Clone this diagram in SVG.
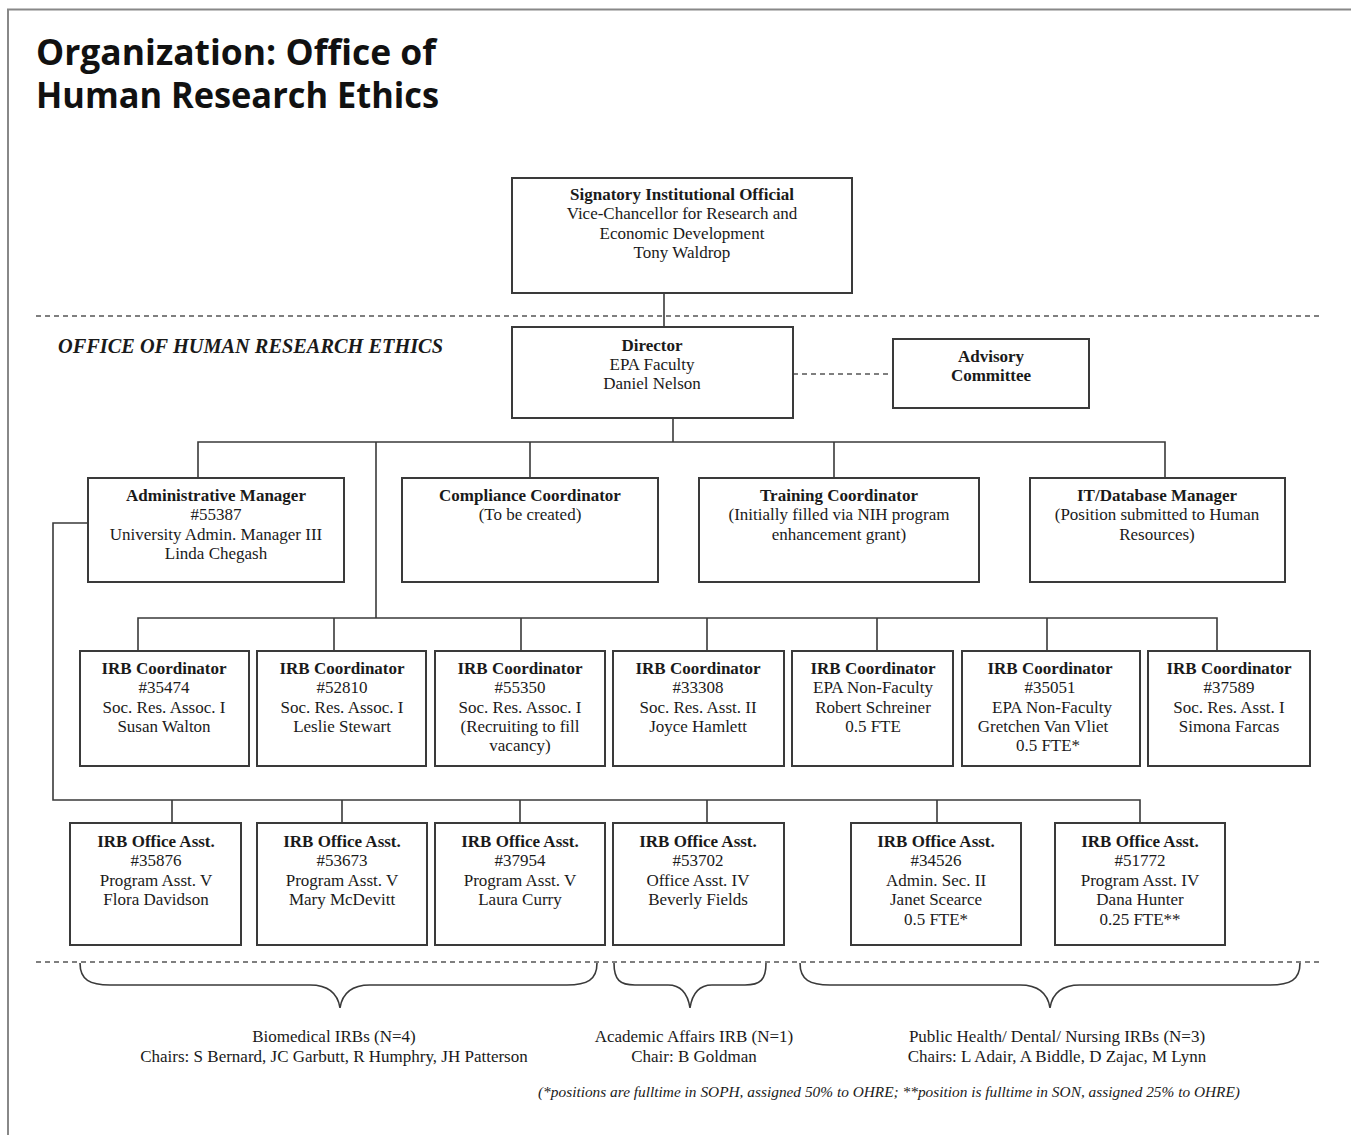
<svg xmlns="http://www.w3.org/2000/svg" width="1351" height="1135" viewBox="0 0 1351 1135">
<style>
.box{fill:#fff;stroke:#3a3a3a;stroke-width:2}
.ln{fill:none;stroke:#3a3a3a;stroke-width:1.6}
.dash{fill:none;stroke:#555;stroke-width:1.6;stroke-dasharray:5 4}
.br{fill:none;stroke:#3a3a3a;stroke-width:1.6}
text{font-family:"Liberation Serif","Times New Roman",serif;font-size:17px;fill:#1a1a1a;text-anchor:middle}
.b{font-weight:bold}
.title{font-family:"Open Sans","DejaVu Sans",sans-serif;font-weight:bold;font-size:35px;text-anchor:start;fill:#111}
.sec{font-weight:bold;font-style:italic;font-size:20px;text-anchor:start}
.fn{font-style:italic;font-size:15px;text-anchor:start}
</style>
<rect x="0" y="0" width="1351" height="1135" fill="#fff"/>
<path d="M8,1135 V9.5 H1351" fill="none" stroke="#888" stroke-width="2"/>
<text class="title" x="36" y="65" textLength="400" lengthAdjust="spacingAndGlyphs">Organization: Office of</text>
<text class="title" x="36" y="108" textLength="403" lengthAdjust="spacingAndGlyphs">Human Research Ethics</text>
<text class="sec" x="58" y="353" textLength="385" lengthAdjust="spacingAndGlyphs">OFFICE OF HUMAN RESEARCH ETHICS</text>

<g id="connectors">
<path class="dash" d="M36,316 H1322"/>
<path class="dash" d="M36,962 H1322"/>
<path class="dash" d="M793,374 H893"/>
<path class="ln" d="M664,293 V327"/>
<path class="ln" d="M673,418 V442"/>
<path class="ln" d="M198,478 V442 H1165 V478 M530,442 V478 M834,442 V478"/>
<path class="ln" d="M376,442 V618"/>
<path class="ln" d="M138,651 V618 H1217 V651 M334,618 V651 M521,618 V651 M707,618 V651 M877,618 V651 M1047,618 V651"/>
<path class="ln" d="M88,523 H53 V800 H1140 V823 M172,800 V823 M342,800 V823 M520,800 V823 M707,800 V823 M937,800 V823"/>
<path class="br" d="M80,963 C80,980 90,985 110,985 L310,985 C330,985 338,995 340,1008 C342,995 350,985 370,985 L567,985 C587,985 597,980 597,963"/>
<path class="br" d="M614,963 C614,980 620,985 635,985 L668,985 C682,985 688,995 690,1008 C692,995 698,985 712,985 L745,985 C760,985 766,980 766,963"/>
<path class="br" d="M800,963 C800,980 810,985 830,985 L1020,985 C1040,985 1048,995 1050,1008 C1052,995 1060,985 1080,985 L1270,985 C1290,985 1300,980 1300,963"/>
</g>

<g id="signatory">
<rect class="box" x="512" y="178" width="340" height="115"/>
<text class="b" x="682" y="200">Signatory Institutional Official</text>
<text x="682" y="219">Vice-Chancellor for Research and</text>
<text x="682" y="239">Economic Development</text>
<text x="682" y="258">Tony Waldrop</text>
</g>
<g id="director">
<rect class="box" x="512" y="327" width="281" height="91"/>
<text class="b" x="652" y="351">Director</text>
<text x="652" y="370">EPA Faculty</text>
<text x="652" y="389">Daniel Nelson</text>
</g>
<g id="advisory">
<rect class="box" x="893" y="339" width="196" height="69"/>
<text class="b" x="991" y="362">Advisory</text>
<text class="b" x="991" y="381">Committee</text>
</g>

<g id="admin-manager">
<rect class="box" x="88" y="478" width="256" height="104"/>
<text class="b" x="216" y="501">Administrative Manager</text>
<text x="216" y="520">#55387</text>
<text x="216" y="540">University Admin. Manager III</text>
<text x="216" y="559">Linda Chegash</text>
</g>
<g id="compliance">
<rect class="box" x="402" y="478" width="256" height="104"/>
<text class="b" x="530" y="501">Compliance Coordinator</text>
<text x="530" y="520">(To be created)</text>
</g>
<g id="training">
<rect class="box" x="699" y="478" width="280" height="104"/>
<text class="b" x="839" y="501">Training Coordinator</text>
<text x="839" y="520">(Initially filled via NIH program</text>
<text x="839" y="540">enhancement grant)</text>
</g>
<g id="it-manager">
<rect class="box" x="1030" y="478" width="255" height="104"/>
<text class="b" x="1157" y="501">IT/Database Manager</text>
<text x="1157" y="520">(Position submitted to Human</text>
<text x="1157" y="540">Resources)</text>
</g>

<g id="irbc1">
<rect class="box" x="80" y="651" width="169" height="115"/>
<text class="b" x="164" y="674">IRB Coordinator</text>
<text x="164" y="693">#35474</text>
<text x="164" y="713">Soc. Res. Assoc. I</text>
<text x="164" y="732">Susan Walton</text>
</g>
<g id="irbc2">
<rect class="box" x="257" y="651" width="169" height="115"/>
<text class="b" x="342" y="674">IRB Coordinator</text>
<text x="342" y="693">#52810</text>
<text x="342" y="713">Soc. Res. Assoc. I</text>
<text x="342" y="732">Leslie Stewart</text>
</g>
<g id="irbc3">
<rect class="box" x="435" y="651" width="170" height="115"/>
<text class="b" x="520" y="674">IRB Coordinator</text>
<text x="520" y="693">#55350</text>
<text x="520" y="713">Soc. Res. Assoc. I</text>
<text x="520" y="732">(Recruiting to fill</text>
<text x="520" y="751">vacancy)</text>
</g>
<g id="irbc4">
<rect class="box" x="613" y="651" width="171" height="115"/>
<text class="b" x="698" y="674">IRB Coordinator</text>
<text x="698" y="693">#33308</text>
<text x="698" y="713">Soc. Res. Asst. II</text>
<text x="698" y="732">Joyce Hamlett</text>
</g>
<g id="irbc5">
<rect class="box" x="792" y="651" width="161" height="115"/>
<text class="b" x="873" y="674">IRB Coordinator</text>
<text x="873" y="693">EPA Non-Faculty</text>
<text x="873" y="713">Robert Schreiner</text>
<text x="873" y="732">0.5 FTE</text>
</g>
<g id="irbc6">
<rect class="box" x="962" y="651" width="178" height="115"/>
<text class="b" x="1050" y="674">IRB Coordinator</text>
<text x="1050" y="693">#35051</text>
<text x="1052" y="713">EPA Non-Faculty</text>
<text x="1043" y="732">Gretchen Van Vliet</text>
<text x="1048" y="751">0.5 FTE*</text>
</g>
<g id="irbc7">
<rect class="box" x="1148" y="651" width="162" height="115"/>
<text class="b" x="1229" y="674">IRB Coordinator</text>
<text x="1229" y="693">#37589</text>
<text x="1229" y="713">Soc. Res. Asst. I</text>
<text x="1229" y="732">Simona Farcas</text>
</g>

<g id="irboa1">
<rect class="box" x="70" y="823" width="171" height="122"/>
<text class="b" x="156" y="847">IRB Office Asst.</text>
<text x="156" y="866">#35876</text>
<text x="156" y="886">Program Asst. V</text>
<text x="156" y="905">Flora Davidson</text>
</g>
<g id="irboa2">
<rect class="box" x="257" y="823" width="170" height="122"/>
<text class="b" x="342" y="847">IRB Office Asst.</text>
<text x="342" y="866">#53673</text>
<text x="342" y="886">Program Asst. V</text>
<text x="342" y="905">Mary McDevitt</text>
</g>
<g id="irboa3">
<rect class="box" x="435" y="823" width="170" height="122"/>
<text class="b" x="520" y="847">IRB Office Asst.</text>
<text x="520" y="866">#37954</text>
<text x="520" y="886">Program Asst. V</text>
<text x="520" y="905">Laura Curry</text>
</g>
<g id="irboa4">
<rect class="box" x="613" y="823" width="171" height="122"/>
<text class="b" x="698" y="847">IRB Office Asst.</text>
<text x="698" y="866">#53702</text>
<text x="698" y="886">Office Asst. IV</text>
<text x="698" y="905">Beverly Fields</text>
</g>
<g id="irboa5">
<rect class="box" x="851" y="823" width="170" height="122"/>
<text class="b" x="936" y="847">IRB Office Asst.</text>
<text x="936" y="866">#34526</text>
<text x="936" y="886">Admin. Sec. II</text>
<text x="936" y="905">Janet Scearce</text>
<text x="936" y="925">0.5 FTE*</text>
</g>
<g id="irboa6">
<rect class="box" x="1055" y="823" width="170" height="122"/>
<text class="b" x="1140" y="847">IRB Office Asst.</text>
<text x="1140" y="866">#51772</text>
<text x="1140" y="886">Program Asst. IV</text>
<text x="1140" y="905">Dana Hunter</text>
<text x="1140" y="925">0.25 FTE**</text>
</g>

<g id="irb-groups">
<text x="334" y="1042">Biomedical IRBs (N=4)</text>
<text x="334" y="1062">Chairs: S Bernard, JC Garbutt, R Humphry, JH Patterson</text>
<text x="694" y="1042">Academic Affairs IRB (N=1)</text>
<text x="694" y="1062">Chair: B Goldman</text>
<text x="1057" y="1042">Public Health/ Dental/ Nursing IRBs (N=3)</text>
<text x="1057" y="1062">Chairs: L Adair, A Biddle, D Zajac, M Lynn</text>
<text class="fn" x="538" y="1097" textLength="702" lengthAdjust="spacingAndGlyphs">(*positions are fulltime in SOPH, assigned 50% to OHRE;  **position is fulltime in SON, assigned 25% to OHRE)</text>
</g>
</svg>
